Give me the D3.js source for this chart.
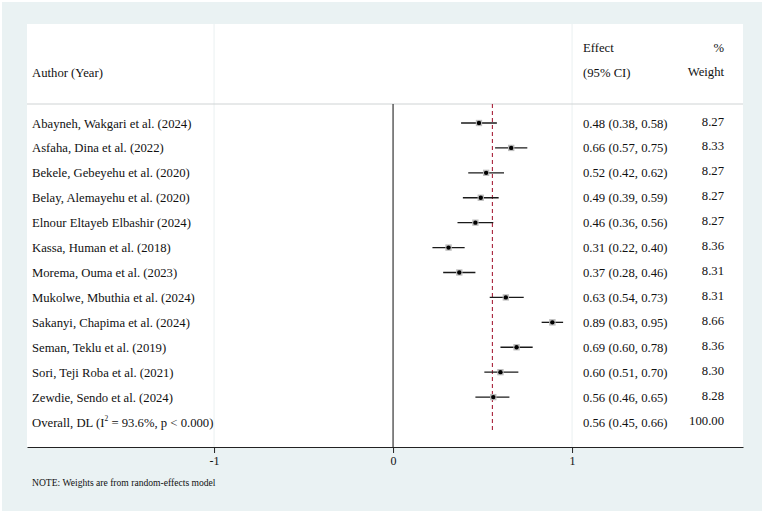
<!DOCTYPE html>
<html>
<head>
<meta charset="utf-8">
<script src="https://cdn.jsdelivr.net/npm/d3@7"></script>
<style>
    body { margin: 0; background: #fff; }
    svg { display: block; }
    text { font-family: "Liberation Serif", "Times New Roman", serif; fill: #111; }
</style>
</head>
<body>
<div id="chart"></div>
<script>
// study rows
const authors = [
    'Abayneh, Wakgari et al. (2024)',
    'Asfaha, Dina et al. (2022)',
    'Bekele, Gebeyehu et al. (2020)',
    'Belay, Alemayehu et al. (2020)',
    'Elnour Eltayeb Elbashir (2024)',
    'Kassa, Human et al. (2018)',
    'Morema, Ouma et al. (2023)',
    'Mukolwe, Mbuthia et al. (2024)',
    'Sakanyi, Chapima et al. (2024)',
    'Seman, Teklu et al. (2019)',
    'Sori, Teji Roba et al. (2021)',
    'Zewdie, Sendo et al. (2024)'
];
const effects = [0.48, 0.66, 0.52, 0.49, 0.46, 0.31, 0.37, 0.63, 0.89, 0.69, 0.60, 0.56];
const lower   = [0.38, 0.57, 0.42, 0.39, 0.36, 0.22, 0.28, 0.54, 0.83, 0.60, 0.51, 0.46];
const upper   = [0.58, 0.75, 0.62, 0.59, 0.56, 0.40, 0.46, 0.73, 0.95, 0.78, 0.70, 0.65];
const weights = [8.27, 8.33, 8.27, 8.27, 8.27, 8.36, 8.31, 8.31, 8.66, 8.36, 8.30, 8.28];

const overall = { effect: 0.555, label: 0.56, lower: 0.45, upper: 0.66, weight: 100, i2: '93.6%', p: '0.000' };
const xTicks = [-1, 0, 1];

const W = 764, H = 513;
const panel = { left: 27, right: 743, top: 24, bottom: 447, header: 104 };

const svg = d3.select('#chart').append('svg').attr('width', W).attr('height', H);

// graph region + plot region
svg.append('rect').attr('x', 2).attr('y', 2).attr('width', W - 4).attr('height', H - 4).attr('fill', '#eaf2f3');
svg.append('rect')
    .attr('x', panel.left).attr('y', panel.top)
    .attr('width', panel.right - panel.left).attr('height', panel.bottom - panel.top)
    .attr('fill', '#fff');

const x = d3.scaleLinear().domain([-2.045, 1.955]).range([panel.left, panel.right]);
const rows = d3.range(authors.length + 1);
const y = d3.scalePoint().domain(rows).range([123, 422]);

// faint gridlines at +-1
svg.append('g').selectAll('line')
    .data(xTicks.filter(d => d !== 0))
    .join('line')
        .attr('x1', d => x(d)).attr('x2', d => x(d))
        .attr('y1', panel.top).attr('y2', panel.bottom)
        .attr('stroke', '#eaf0f1').attr('stroke-width', 1);

// header separator
svg.append('line')
    .attr('x1', panel.left).attr('x2', panel.right)
    .attr('y1', panel.header).attr('y2', panel.header)
    .attr('stroke', '#cfd3d4').attr('stroke-width', 1);

// null line
svg.append('line')
    .attr('x1', x(0)).attr('x2', x(0))
    .attr('y1', panel.header).attr('y2', panel.bottom)
    .attr('stroke', '#222').attr('stroke-width', 1.1);

// overall effect reference
svg.append('line')
    .attr('x1', x(overall.effect)).attr('x2', x(overall.effect))
    .attr('y1', panel.header).attr('y2', 433)
    .attr('stroke', '#a8223a').attr('stroke-width', 1.1)
    .attr('stroke-dasharray', '4,3');

// studies
const study = svg.append('g').selectAll('g')
    .data(authors.map((a, i) => ({ a, e: effects[i], lo: lower[i], hi: upper[i], w: weights[i], i })))
    .join('g');

const half = w => Math.sqrt(w) * 1.1;

study.append('line')
    .attr('x1', d => x(d.lo)).attr('x2', d => x(d.hi))
    .attr('y1', d => y(d.i)).attr('y2', d => y(d.i))
    .attr('stroke', '#1a1a1a').attr('stroke-width', 1.3);

study.append('rect')
    .attr('width', d => half(d.w) * 2)
    .attr('height', d => half(d.w) * 2)
    .attr('x', d => x(d.e) - half(d.w))
    .attr('y', d => y(d.i) - half(d.w))
    .attr('fill', '#bdbdbd');

study.append('circle')
    .attr('cx', d => x(d.e)).attr('cy', d => y(d.i))
    .attr('r', 2.2).attr('fill', '#000');

// text columns
const fs = 12.7;
const leftX = 32, effX = 583, wRight = 724;
const fmt = d3.format('.2f');

svg.append('text').attr('x', leftX).attr('y', 77).attr('font-size', fs).text('Author (Year)');
svg.append('text').attr('x', effX).attr('y', 52).attr('font-size', fs).text('Effect');
svg.append('text').attr('x', effX).attr('y', 77).attr('font-size', fs).text('(95% CI)');
svg.append('text').attr('x', wRight).attr('y', 52).attr('font-size', fs).attr('text-anchor', 'end').text('%');
svg.append('text').attr('x', wRight).attr('y', 76).attr('font-size', fs).attr('text-anchor', 'end').text('Weight');

study.append('text')
    .attr('x', leftX).attr('y', d => y(d.i) + 4.5)
    .attr('font-size', fs)
    .text(d => d.a);

study.append('text')
    .attr('x', effX).attr('y', d => y(d.i) + 4.5)
    .attr('font-size', fs)
    .text(d => `${fmt(d.e)} (${fmt(d.lo)}, ${fmt(d.hi)})`);

study.append('text')
    .attr('x', wRight).attr('y', d => y(d.i) + 2.5)
    .attr('font-size', fs).attr('text-anchor', 'end')
    .text(d => fmt(d.w));

// overall row
const oy = y(authors.length);
const ot = svg.append('text').attr('x', leftX).attr('y', oy + 4.5).attr('font-size', fs);
ot.append('tspan').text('Overall, DL (I');
ot.append('tspan').attr('dy', -6).attr('font-size', 7.5).text('2');
ot.append('tspan').attr('dy', 6).text(` = ${overall.i2}, p < ${overall.p})`);

svg.append('text').attr('x', effX).attr('y', oy + 4.5).attr('font-size', fs)
    .text(`${fmt(overall.label)} (${fmt(overall.lower)}, ${fmt(overall.upper)})`);
svg.append('text').attr('x', wRight).attr('y', oy + 2.5).attr('font-size', fs).attr('text-anchor', 'end')
    .text(fmt(overall.weight));

// x axis
const axis = svg.append('g')
    .attr('transform', `translate(0,${panel.bottom})`)
    .call(d3.axisBottom(x).tickValues(xTicks).tickSize(6).tickSizeOuter(0).tickFormat(d3.format('d')));
axis.select('.domain').attr('stroke', '#222').attr('stroke-width', 1.1);
axis.selectAll('.tick line').attr('stroke', '#222');
axis.selectAll('.tick text')
    .attr('font-family', '"Liberation Serif", serif')
    .attr('font-size', 12).attr('fill', '#111').attr('y', 9).attr('dy', '0.71em')
    .text(d => d < 0 ? '-' + Math.abs(d) : d);

svg.append('text').attr('x', leftX).attr('y', 485.5).attr('font-size', 9.6)
    .text('NOTE: Weights are from random-effects model');
</script>
</body>
</html>
